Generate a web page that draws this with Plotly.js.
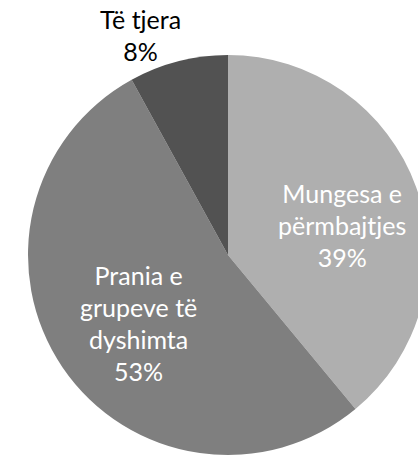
<!DOCTYPE html>
<html><head><meta charset="utf-8">
<script src="https://cdn.plot.ly/plotly-3.0.1.min.js"></script>
<style>html,body{margin:0;padding:0;background:#fff;overflow:hidden}</style>
</head><body><div id="chart" style="width:456px;height:457px"></div>
<script>
const categories = ['Mungesa e përmbajtjes', 'Prania e grupeve të dyshimta', 'Të tjera'];
const labelLines = [['Mungesa e', 'përmbajtjes'], ['Prania e', 'grupeve të', 'dyshimta'], ['Të tjera']];
const values = [39, 53, 8];
const colors = ['#afafaf', '#7f7f7f', '#525252'];
const labelColors = ['#ffffff', '#ffffff', '#000000'];
// label anchor positions (paper fractions) for each slice's label
const labelX = [342 / 456, 138 / 456, 140 / 456];
const labelY = [1 - 225 / 457, 1 - 323 / 457, 1 - 35 / 457];

const W = 456, H = 457;
const total = values.reduce((a, b) => a + b, 0);

const trace = {
  type: 'pie',
  labels: categories,
  values: values,
  textinfo: 'none',
  marker: {colors: colors, line: {width: 0}},
  sort: false,
  direction: 'clockwise',
  rotation: 0,
  automargin: false,
  domain: {x: [28 / W, 428 / W], y: [2 / H, 402 / H]},
  showlegend: false,
  hoverinfo: 'none'
};

const annotations = categories.map((c, i) => {
  const pct = Math.round(values[i] / total * 100) + '%';
  const lines = labelLines[i].concat([pct]);
  return {
    xref: 'paper', yref: 'paper',
    x: labelX[i], y: labelY[i],
    xanchor: 'center', yanchor: 'middle',
    showarrow: false,
    align: 'center',
    text: lines.map(l => '<span style="font-size:25px">' + l + '</span>').join('<br>'),
    font: {family: 'Lato', size: 24.6, color: labelColors[i]}
  };
});

Plotly.newPlot('chart', [trace], {
  width: W, height: H,
  margin: {l: 0, r: 0, t: 0, b: 0},
  paper_bgcolor: '#ffffff',
  showlegend: false,
  annotations: annotations
}, {staticPlot: true});
</script></body></html>
